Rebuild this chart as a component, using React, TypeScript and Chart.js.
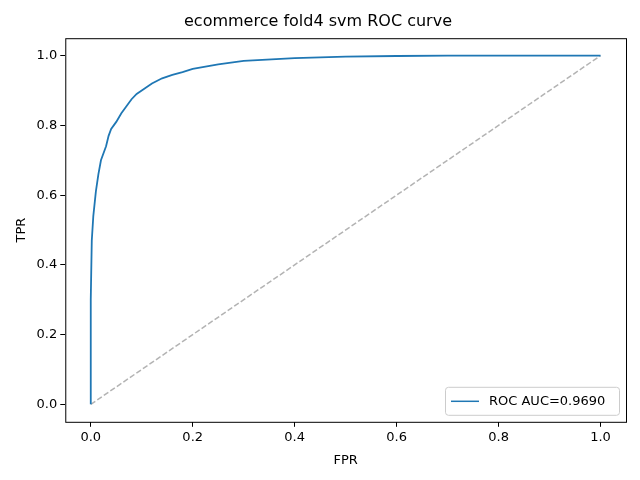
import React, { useEffect, useRef } from "react";
import { Chart, registerables } from "chart.js";
Chart.register(...registerables);

const fpr = [0, 0, 0.002, 0.005, 0.01, 0.015, 0.02, 0.03, 0.035, 0.04, 0.05, 0.06, 0.07, 0.08, 0.09, 0.1, 0.12, 0.14, 0.16, 0.18, 0.2, 0.25, 0.3, 0.4, 0.5, 0.6, 0.7, 1.0];
const tpr = [0, 0.3, 0.47, 0.54, 0.61, 0.66, 0.7, 0.74, 0.77, 0.79, 0.81, 0.835, 0.855, 0.875, 0.89, 0.9, 0.92, 0.935, 0.945, 0.953, 0.962, 0.975, 0.985, 0.993, 0.997, 0.999, 1.0, 1.0];
const diagX = [0, 1];
const diagY = [0, 1];
const tickVals = [0, 0.2, 0.4, 0.6, 0.8, 1.0];
const titleText = "ecommerce fold4 svm ROC curve";
const legendLabel = "ROC AUC=0.9690";
const FONT = "DejaVu Sans";

const framePlugin = {
  id: "frame",
  afterDraw(chart: any) {
    const { ctx, chartArea: a } = chart;
    ctx.save();
    ctx.strokeStyle = "#000";
    ctx.lineWidth = 1;
    ctx.strokeRect(a.left + 0.5, a.top + 0.5, a.right - a.left, a.bottom - a.top);
    const w = 174, h = 28;
    const x = a.right - w - 7, y = a.bottom - h - 7;
    ctx.fillStyle = "rgba(255,255,255,0.8)";
    ctx.strokeStyle = "#cccccc";
    ctx.beginPath();
    ctx.roundRect(x + 0.5, y + 0.5, w, h, 3);
    ctx.fill();
    ctx.stroke();
    ctx.strokeStyle = "#1f77b4";
    ctx.lineWidth = 1.5;
    ctx.beginPath();
    ctx.moveTo(x + 6, y + h / 2 + 0.5);
    ctx.lineTo(x + 34, y + h / 2 + 0.5);
    ctx.stroke();
    ctx.fillStyle = "#000";
    ctx.font = `13px ${FONT}`;
    ctx.textBaseline = "middle";
    ctx.fillText(legendLabel, x + 44, y + h / 2 + 1);
    ctx.restore();
  },
};

export default function App() {
  const ref = useRef<HTMLCanvasElement>(null);
  useEffect(() => {
    const fixTicks = (s: any) => { s.ticks = tickVals.map((v) => ({ value: v })); };
    const chart = new Chart(ref.current!, {
      type: "scatter",
      data: {
        datasets: [
          {
            data: fpr.map((x, i) => ({ x, y: tpr[i] })),
            showLine: true, borderColor: "#1f77b4", borderWidth: 1.8, pointRadius: 0, tension: 0,
          },
          {
            data: diagX.map((x, i) => ({ x, y: diagY[i] })),
            showLine: true, borderColor: "rgba(128,128,128,0.6)", borderWidth: 1.5, borderDash: [5.5, 2.4], pointRadius: 0,
          },
        ],
      },
      options: {
        animation: false, responsive: false,
        layout: { padding: { left: 10, right: 14, top: 0, bottom: 8 } },
        plugins: {
          legend: { display: false }, tooltip: { enabled: false },
          title: { display: true, text: titleText, color: "#000", font: { family: FONT, size: 16, weight: "normal" }, padding: { top: 12, bottom: 7 } },
        },
        scales: {
          x: {
            type: "linear", min: -0.05, max: 1.05, afterBuildTicks: fixTicks,
            grid: { drawOnChartArea: false, tickLength: 5, color: "#000" }, border: { display: false },
            ticks: { color: "#000", font: { family: FONT, size: 13 }, callback: (v: any) => Number(v).toFixed(1), maxRotation: 0 },
            title: { display: true, text: "FPR", color: "#000", font: { family: FONT, size: 13 } },
          },
          y: {
            type: "linear", min: -0.05, max: 1.05, afterBuildTicks: fixTicks,
            grid: { drawOnChartArea: false, tickLength: 5, color: "#000" }, border: { display: false },
            ticks: { color: "#000", font: { family: FONT, size: 13 }, callback: (v: any) => Number(v).toFixed(1) },
            title: { display: true, text: "TPR", color: "#000", font: { family: FONT, size: 13 } },
          },
        },
      },
      plugins: [framePlugin],
    } as any);
    return () => chart.destroy();
  }, []);
  return (
    <div style={{ position: "fixed", left: 0, top: 0, width: 640, height: 480, background: "#fff" }}>
      <canvas ref={ref} width={640} height={480} />
    </div>
  );
}
